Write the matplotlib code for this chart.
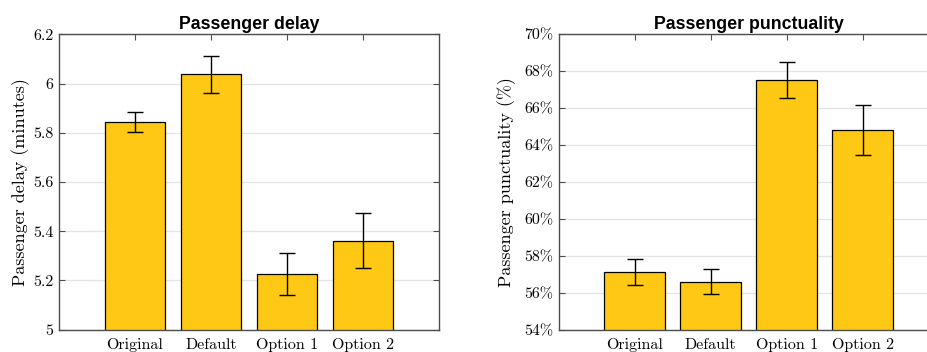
import numpy as np
import matplotlib
matplotlib.use('Agg')
import matplotlib.pyplot as plt
from matplotlib.ticker import FuncFormatter

plt.rcParams['font.family'] = 'serif'
plt.rcParams['font.serif'] = ['cmr10']
plt.rcParams['axes.formatter.use_mathtext'] = True

categories = ['Original', 'Default', 'Option 1', 'Option 2']

delay_mean = [5.845, 6.037, 5.226, 5.362]
delay_err = [0.040, 0.077, 0.087, 0.112]

punct_mean = [57.13, 56.60, 67.53, 64.82]
punct_err = [0.70, 0.67, 0.98, 1.34]

bar_color = '#FFC814'
edge_gray = '#4d4d4d'


def style_axes(ax):
    ax.set_xlim(0, 5)
    ax.set_xticks(np.arange(1, 5))
    ax.set_xticklabels(categories)
    ax.yaxis.grid(True, color='#e3e3e3', lw=0.9)
    ax.set_axisbelow(True)
    for s in ax.spines.values():
        s.set_color(edge_gray)
        s.set_linewidth(1.0)
    ax.tick_params(direction='in', top=True, right=True, length=4,
                   width=0.8, color=edge_gray, labelsize=11.5, pad=4)
    ax.tick_params(axis='x', pad=6)


def draw_bars(ax, means, errs):
    x = np.arange(1, 5)
    ax.bar(x, means, width=0.8, color=bar_color, edgecolor='black', lw=0.9, zorder=2)
    ax.errorbar(x, means, yerr=errs, fmt='none', ecolor='black',
                elinewidth=1.0, capsize=6, capthick=1.0, zorder=3)


fig = plt.figure(figsize=(9.27, 3.52), dpi=100)

ax1 = fig.add_axes([0.0636, 0.0634, 0.41, 0.839])
draw_bars(ax1, delay_mean, delay_err)
style_axes(ax1)
ax1.set_ylim(5, 6.2)
ax1.set_yticks([5, 5.2, 5.4, 5.6, 5.8, 6, 6.2])
ax1.yaxis.set_major_formatter(FuncFormatter(lambda v, p: ('%g' % v)))
ax1.set_ylabel('Passenger delay (minutes)', fontsize=13, labelpad=2)
ax1.set_title('Passenger delay', fontfamily='Liberation Sans',
              fontweight='bold', fontsize=12.8, pad=4)

ax2 = fig.add_axes([0.6027, 0.0634, 0.41, 0.839])
draw_bars(ax2, punct_mean, punct_err)
style_axes(ax2)
ax2.set_ylim(54, 70)
ax2.set_yticks(np.arange(54, 71, 2))
ax2.yaxis.set_major_formatter(FuncFormatter(lambda v, p: '%d%%' % v))
ax2.set_ylabel('Passenger punctuality (%)', fontsize=13, labelpad=6)
ax2.set_title('Passenger punctuality', fontfamily='Liberation Sans',
              fontweight='bold', fontsize=12.8, pad=4)

fig.savefig('out.png', dpi=100)
